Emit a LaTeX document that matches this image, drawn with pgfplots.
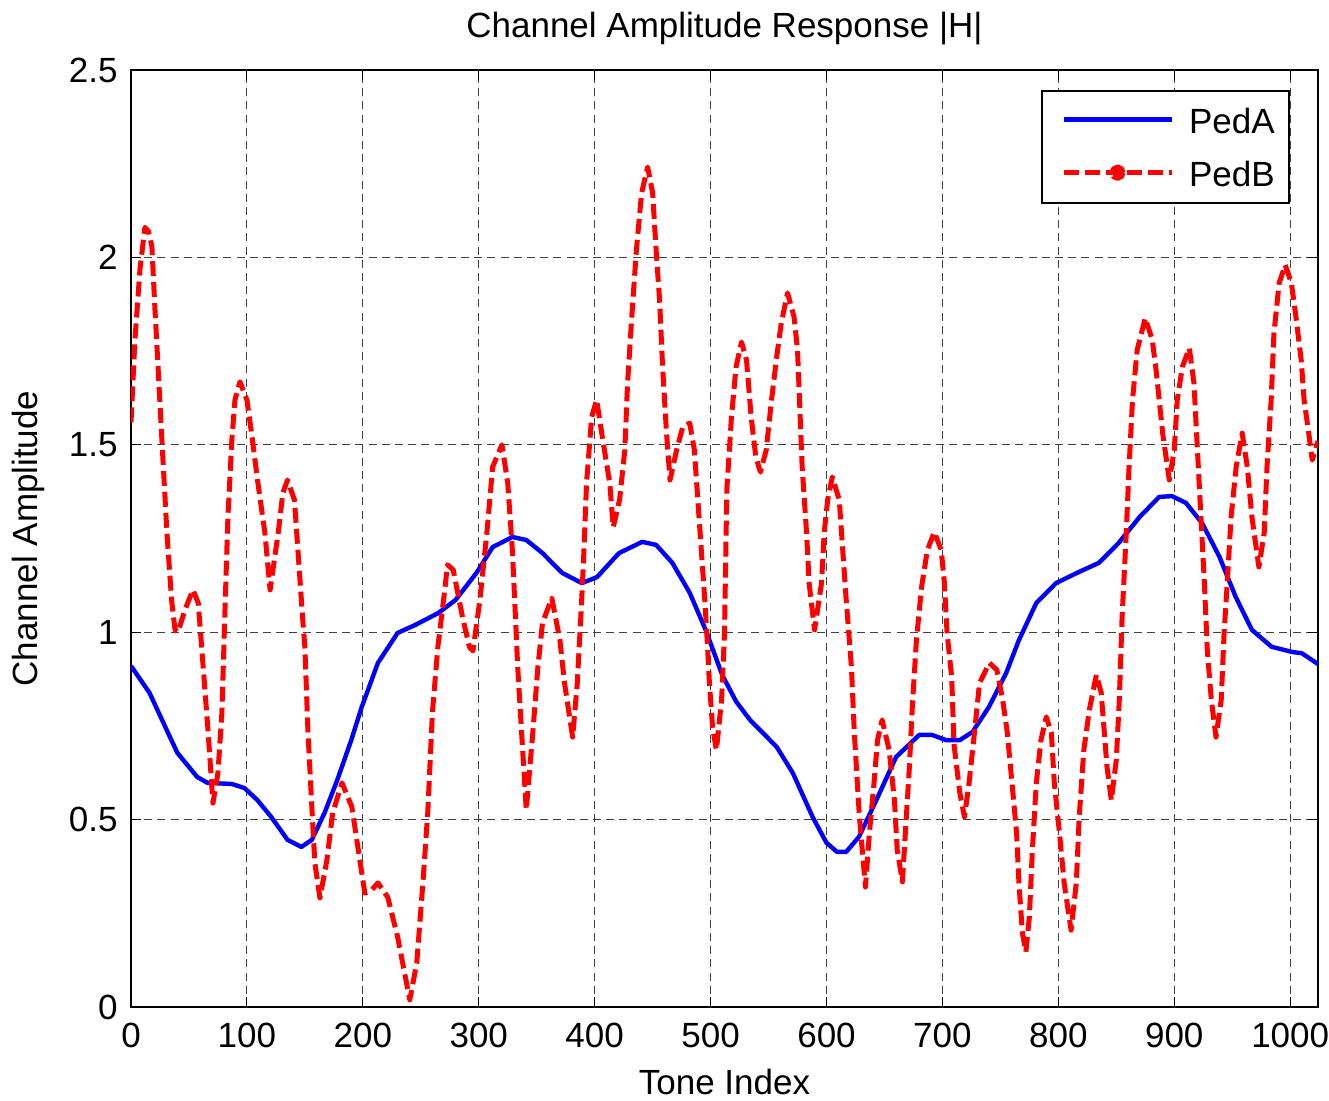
\documentclass[border=0pt]{standalone}
\usepackage{fontspec}
\setmainfont{Liberation Sans}
\usepackage{pgfplots}
\pgfplotsset{compat=1.18}
\newcommand{\lbl}{\fontsize{17.5}{21}\selectfont}
\begin{document}
\begin{tikzpicture}
\useasboundingbox (-65.5pt,-47pt) rectangle (599pt,503.5pt);
\begin{axis}[
  at={(0pt,0pt)}, anchor=south west,
  scale only axis, width=593.5pt, height=468.5pt,
  xmin=0, xmax=1024, ymin=0, ymax=2.5,
  xtick={0,100,200,300,400,500,600,700,800,900,1000},
  xticklabels={0,100,200,300,400,500,600,700,800,900,1000},
  ytick={0,0.5,1,1.5,2,2.5},
  yticklabels={0,0.5,1,1.5,2,2.5},
  tick align=inside, major tick length=5pt,
  tick style={black, line width=0.5pt},
  xtick pos=both, ytick pos=both,
  axis line style={black, line width=1pt},
  grid=major,
  major grid style={black!75, line width=0.5pt, dash pattern=on 4pt off 2.6pt},
  xticklabel style={font=\lbl, inner sep=0pt, anchor=base, yshift=-20.5pt},
  yticklabel style={font=\lbl, inner sep=0pt, anchor=east, xshift=-6.5pt},
  title={Channel Amplitude Response |H|},
  title style={font=\lbl, inner sep=0pt, at={([yshift=10pt]axis description cs:0.5,1)}, anchor=base},
  xlabel={Tone Index},
  xlabel style={font=\lbl, inner sep=0pt, at={([yshift=-44pt]axis description cs:0.5,0)}, anchor=base},
  ylabel={Channel Amplitude},
  ylabel style={font=\lbl, inner sep=0pt, at={([xshift=-46.5pt]axis description cs:0,0.5)}, anchor=base, rotate=0},
  legend style={at={(axis description cs:0.9764,0.9787)}, anchor=north east,
    draw=black, line width=0.9pt, fill=white, font=\lbl,
    inner xsep=7.2pt, inner ysep=8.5pt, row sep=14pt, column sep=7.5pt,
    nodes={inner sep=0pt, text height=12.6pt, text depth=0pt}},
  legend cell align=left,
]
\addplot[blue, line width=2.2pt, line join=round,
  legend image code/.code={\path (0pt,0pt); \draw[blue, line width=2.2pt] (2.3pt,0.5pt) -- (56.3pt,0.5pt);}]
coordinates {
(0,0.910) (16,0.838) (32,0.731) (40,0.678) (57,0.614) (66,0.598) (87,0.595) (98,0.584)
(109,0.552) (121,0.507) (135,0.446) (147,0.427) (156,0.446) (167,0.518) (178,0.606)
(190,0.712) (199,0.800) (213,0.918) (230,0.998) (245,1.019) (265,1.051) (280,1.086)
(298,1.158) (312,1.227) (329,1.254) (341,1.246) (355,1.211) (372,1.158) (389,1.131)
(402,1.147) (421,1.211) (441,1.241) (453,1.233) (467,1.185) (482,1.105) (496,1.004)
(510,0.886) (522,0.815) (534,0.766) (557,0.694) (571,0.624) (588,0.507) (600,0.438)
(609,0.414) (617,0.414) (628,0.454) (643,0.552) (660,0.667) (680,0.726) (691,0.726)
(703,0.712) (715,0.712) (726,0.734) (740,0.800) (755,0.891) (766,0.979) (781,1.078)
(798,1.131) (818,1.161) (835,1.185) (852,1.238) (870,1.307) (887,1.361) (898,1.363)
(910,1.345) (924,1.291) (939,1.201) (953,1.094) (967,1.006) (984,0.961) (1002,0.947)
(1010,0.944) (1024,0.915)
};
\addlegendentry{PedA}
\addplot[red, line width=2.5pt, dash pattern=on 7.5pt off 3pt, line join=round,
  legend image code/.code={\path (0pt,0pt); \draw[red, line width=2.5pt, dash pattern=on 7.5pt off 3pt] (2.3pt,0.5pt) -- (56.3pt,0.5pt); \fill[red] (29.3pt,0.5pt) circle (2.8pt);}]
coordinates {
(0,1.56) (3.4,1.78) (7.8,1.97) (12,2.08) (15,2.07) (18,2.03) (20.7,1.86) (23.3,1.71)
(26.7,1.51) (31,1.265) (35,1.086) (38,1.006) (40.5,1.0) (46.5,1.059) (53.4,1.113)
(58,1.078) (62,0.918) (66.4,0.739) (70.7,0.544) (75,0.624) (78.4,0.784) (81,1.051)
(83.6,1.307) (87,1.513) (89.7,1.62) (94,1.668) (100,1.62) (104,1.531) (109.5,1.398)
(115.5,1.265) (120,1.113) (127,1.265) (131,1.371) (135,1.406) (141,1.353) (144,1.219)
(148,1.04) (150,0.96) (152.6,0.739) (156,0.534) (158.6,0.384) (163,0.291) (169,0.392)
(174,0.518) (182,0.598) (190.5,0.534) (195.7,0.427) (201.7,0.304) (207,0.31) (213,0.331)
(221.5,0.293) (230,0.187) (236,0.091) (240.5,0.019) (246.5,0.117) (252,0.339) (256,0.518)
(260,0.784) (264.7,0.960) (270.7,1.113) (273,1.18) (278,1.166) (286,1.04) (292,0.96)
(295,0.95) (301,1.086) (307,1.265) (312,1.441) (320,1.5) (325,1.398) (329,1.219)
(331,1.086) (333.6,0.907) (337,0.731) (341,0.526) (346.6,0.731) (351,0.907) (355,1.025)
(363,1.091) (370,0.979) (374,0.864) (381,0.72) (385,0.864) (388.8,1.086) (390.5,1.2)
(393,1.398) (397.4,1.574) (401.7,1.62) (407,1.513) (413,1.398) (416,1.28) (421.5,1.353)
(426,1.486) (428.4,1.665) (432,1.841) (436,2.02) (440.5,2.172) (445.7,2.241) (450,2.172)
(453,2.02) (456,1.886) (458.6,1.708) (462,1.531) (465,1.406) (470.7,1.486) (476,1.548)
(482,1.558) (486,1.486) (489,1.353) (492,1.219) (495,1.086) (497.4,0.960) (499,0.864)
(501.7,0.747) (505,0.686) (509.5,0.819) (512,0.998) (514,1.38) (518,1.574) (522,1.708)
(526.7,1.774) (531,1.726) (535,1.574) (539,1.468) (543,1.427) (548,1.486) (552.6,1.62)
(557,1.734) (561,1.825) (566.4,1.905) (572,1.841) (575,1.753) (576.7,1.62) (579,1.441)
(582.8,1.265) (585,1.131) (589.7,1.006) (595.7,1.131) (598,1.265) (601,1.353) (605,1.414)
(611,1.353) (614,1.219) (617,1.086) (621.5,0.907) (624,0.731) (628.4,0.507) (633.6,0.32)
(637,0.464) (641,0.598) (644,0.712) (648,0.766) (654,0.686) (658.6,0.552) (661,0.419)
(665.5,0.334) (668,0.464) (671.5,0.64) (674,0.80) (677.6,0.98) (682,1.12) (687,1.219)
(693,1.267) (699,1.219) (701.7,1.131) (704,0.998) (708,0.88) (710,0.70) (715,0.571)
(719,0.507) (723,0.598) (727.6,0.731) (732,0.864) (740.5,0.918) (747,0.899) (752,0.819)
(756,0.731) (760,0.598) (764,0.464) (766,0.331) (769,0.197) (772,0.147) (775,0.240)
(777.6,0.419) (781,0.598) (785,0.712) (789.6,0.774) (794,0.731) (796.5,0.598) (801,0.464)
(805,0.331) (811,0.205) (815.5,0.331) (818,0.507) (822,0.686) (826.7,0.792) (832.8,0.886)
(837,0.838) (839.7,0.731) (842,0.64) (845.7,0.552) (850,0.659) (852.6,0.82) (855,1.04)
(858.6,1.265) (861,1.441) (864,1.62) (868,1.753) (875,1.838) (881,1.78) (884,1.708)
(887,1.62) (890,1.531) (895.7,1.406) (900,1.486) (902.6,1.62) (907,1.708) (913,1.758)
(917,1.665) (920,1.486) (923,1.307) (926,1.131) (928.5,0.952) (932,0.819) (936,0.72)
(940.5,0.819) (943,0.998) (945.7,1.131) (949,1.307) (953.4,1.441) (958.6,1.531) (963,1.441)
(967,1.307) (973,1.174) (977.6,1.265) (980,1.441) (983.6,1.62) (986,1.798) (990.5,1.932)
(995.7,1.98) (1001,1.932) (1005,1.841) (1009.5,1.726) (1012,1.62) (1016,1.531) (1019,1.459)
(1024,1.51)
};
\addlegendentry{PedB}
\end{axis}
\end{tikzpicture}
\end{document}
